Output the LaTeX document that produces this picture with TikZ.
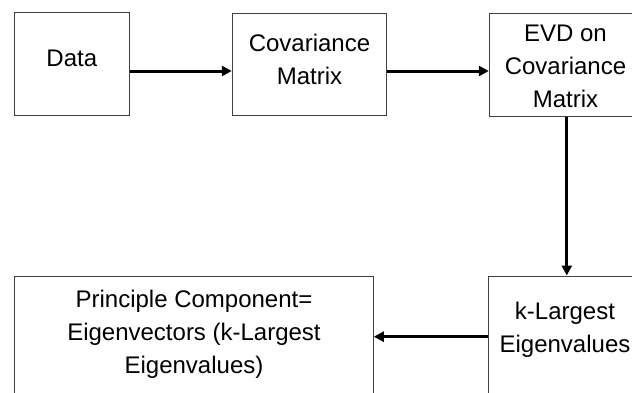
\documentclass[tikz,border=0pt]{standalone}
\usepackage{fontspec}
\setmainfont{Liberation Sans}
\usetikzlibrary{arrows.meta,calc}
\begin{document}
\begin{tikzpicture}[x=1pt,y=-1pt,
  box/.style={draw=black!75,line width=1pt,rectangle,inner sep=0pt},
  txt/.style={align=center,font=\fontsize{24}{33}\selectfont,inner sep=0pt},
  arr/.style={line width=3pt,-{Triangle[length=10pt,width=10pt]}}]
\useasboundingbox (0,0) rectangle (632,392);
\clip (0,0) rectangle (632,392);
% boxes
\node[box,minimum width=114.3pt,minimum height=103pt] (data) at (71.85,64.2) {};
\node[box,minimum width=154.4pt,minimum height=102.7pt] (cov) at (309.5,64.35) {};
\node[box,minimum width=155pt,minimum height=103pt] (evd) at (566.8,64.5) {};
\node[box,minimum width=157pt,minimum height=130pt] (kl) at (566.8,341) {};
\node[box,minimum width=358.6pt,minimum height=130pt] (pc) at (194,341.7) {};
% texts
\node[txt] at (71.8,58) {Data};
\node[txt] at (309.5,59) {Covariance\\Matrix};
\node[txt] at (565.5,66) {EVD on\\Covariance\\Matrix};
\node[txt] at (565,330) {k-Largest\\Eigenvalues};
\node[txt] at (194,334) {Principle Component=\\Eigenvectors (k-Largest\\Eigenvalues)};
% connectors
\draw[arr] (data.east |- 0,71) -- (cov.west |- 0,71);
\draw[arr] (cov.east |- 0,71) -- (evd.west |- 0,71);
\draw[arr] (evd.south) -- (evd.south |- kl.north);
\draw[arr] (kl.west |- 0,336.7) -- (pc.east |- 0,336.7);
\end{tikzpicture}
\end{document}
